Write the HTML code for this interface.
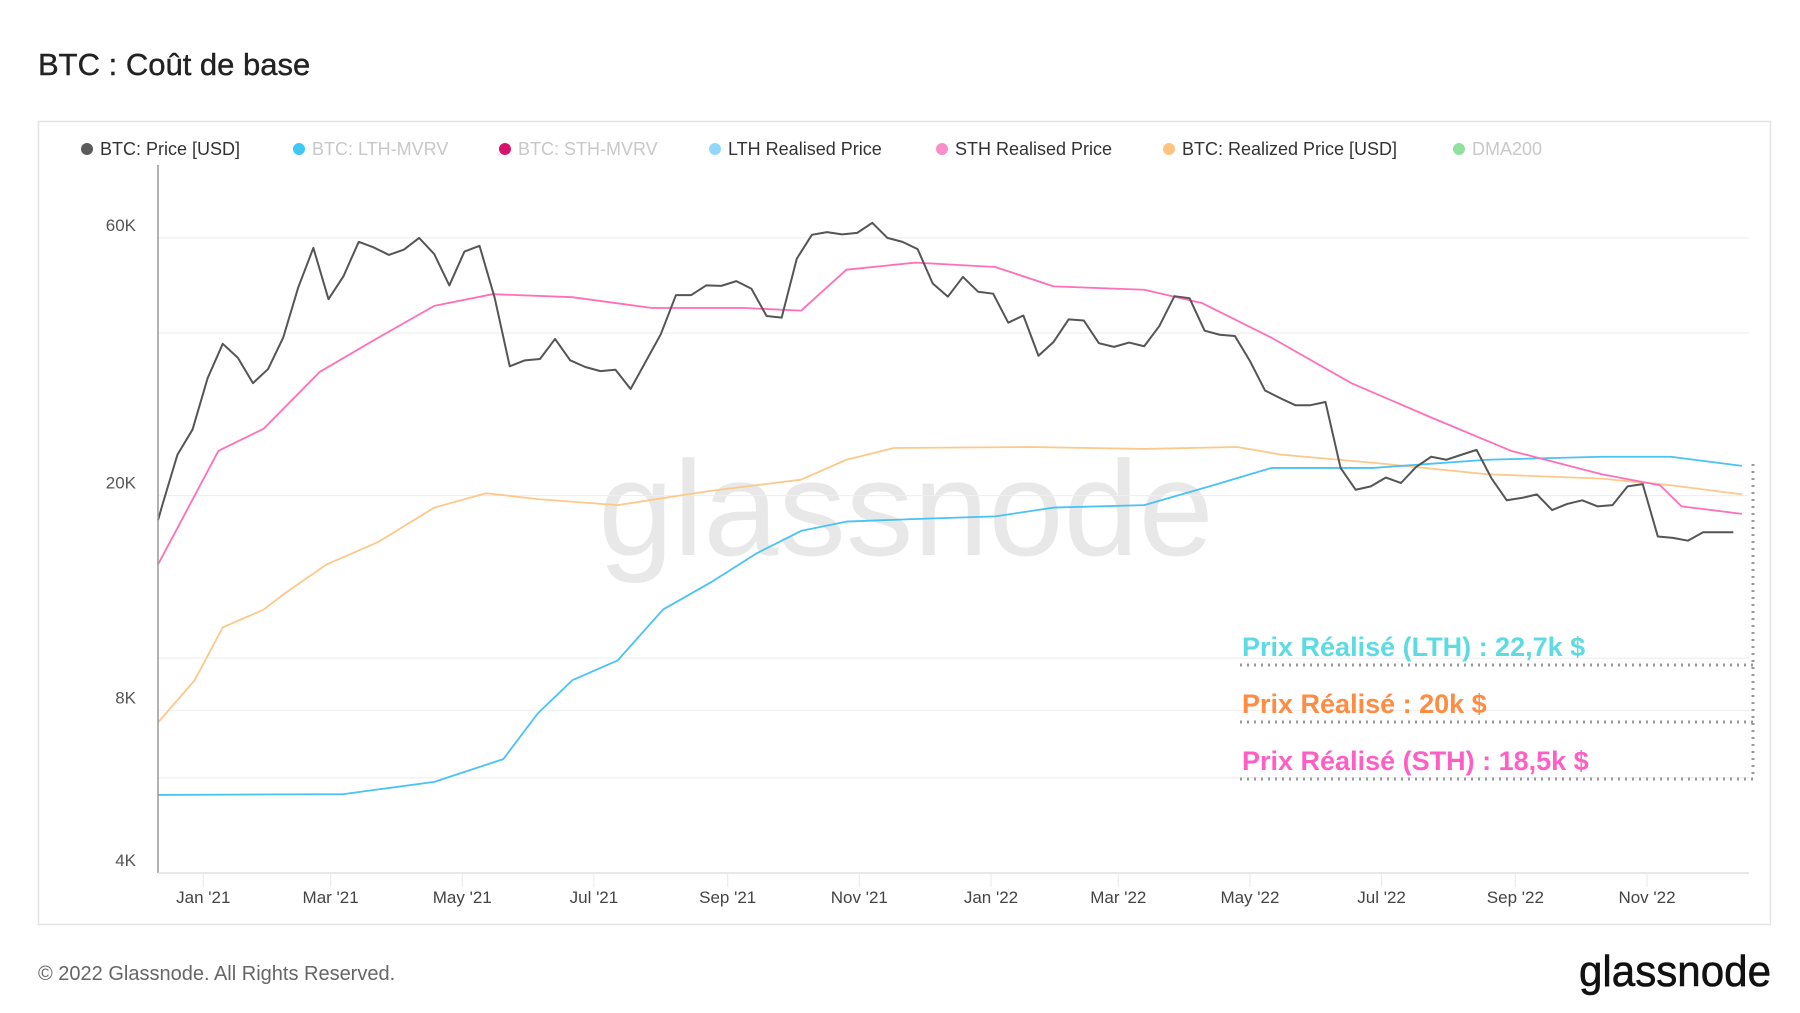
<!DOCTYPE html>
<html><head><meta charset="utf-8"><style>
html,body{margin:0;padding:0;background:#fff;width:1800px;height:1013px;overflow:hidden;font-family:"Liberation Sans",sans-serif}
</style></head><body>
<svg id="chart" width="1800" height="1013" xmlns="http://www.w3.org/2000/svg">
<text x="38" y="75" font-size="31" fill="#222" stroke="#222" stroke-width="0.4">BTC : Coût de base</text>
<rect x="38.5" y="121.5" width="1732" height="803" fill="none" stroke="#e3e3e3" stroke-width="1.5"/>
<g id="legend" font-size="18"></g>
<text x="906" y="555" font-size="135" fill="#e8e8e8" text-anchor="middle">glassnode</text>
<g id="grid"></g>
<g id="series"></g>
<g id="axes"></g>
<g id="annot">
<text x="1242" y="656" font-size="27" font-weight="bold" fill="#5ddbe3">Prix Réalisé (LTH) : 22,7k $</text>
<text x="1242" y="713" font-size="27" font-weight="bold" fill="#ff8c42">Prix Réalisé : 20k $</text>
<text x="1242" y="770" font-size="27" font-weight="bold" fill="#ff5fc4">Prix Réalisé (STH) : 18,5k $</text>
<g stroke="#999" stroke-width="3" stroke-dasharray="2,5" fill="none">
<line x1="1240" y1="665" x2="1753" y2="665"/>
<line x1="1240" y1="722" x2="1753" y2="722"/>
<line x1="1240" y1="779" x2="1753" y2="779"/>
<line x1="1753" y1="464" x2="1753" y2="779"/>
</g></g>
<text x="38" y="980" font-size="20" fill="#666">© 2022 Glassnode. All Rights Reserved.</text>
<text x="1771" y="986" font-size="44" fill="#111" stroke="#111" stroke-width="0.6" text-anchor="end" textLength="192" lengthAdjust="spacingAndGlyphs">glassnode</text>
</svg>
<script>
// day offsets from 2020-12-11
const priceValues=[18000,19200,23800,26500,33000,38200,36000,32300,34300,39200,48600,57500,46200,51000,59000,57600,55800,57100,60000,56000,49000,56600,58000,46500,34700,35600,35800,39000,35600,34600,34000,34200,31500,35400,39800,47000,47000,49000,48900,49900,48300,43000,42700,54900,60800,61500,60900,61300,64000,60000,59000,57200,49400,46700,50800,47700,47300,41800,43100,36300,38500,42400,42200,38300,37700,38400,37800,41200,46800,46400,40400,39700,39500,35500,31300,30300,29400,29400,29800,22500,20500,20800,21600,21100,22600,23600,23300,23800,24300,21500,19600,19800,20100,18800,19300,19600,19100,19200,20800,21000,16800,16700,16500,17100,17100,17100];
const sthDays=[0,28,49,75,102,128,155,192,229,272,298,319,351,388,415,457,484,516,553,590,627,669,696,706,734];
const sthValues=[14900,24200,26600,33900,39200,44900,47200,46600,44500,44500,44000,52400,54000,53000,48800,48100,45400,39200,32300,27900,24200,21900,20900,19100,18500];
const lthDays=[0,86,128,160,176,192,213,234,256,277,298,319,351,388,415,457,489,516,563,616,669,701,734];
const lthValues=[5580,5600,5900,6500,7900,9100,9900,12300,13800,15600,17200,17900,18100,18300,19000,19200,20900,22500,22500,23300,23600,23600,22700];
const rpDays=[0,17,30,49,59,78,102,128,152,176,213,256,298,319,341,404,457,500,521,563,616,669,701,734];
const rpValues=[7600,9100,11400,12300,13200,14900,16400,19000,20200,19700,19200,20400,21400,23300,24500,24600,24400,24600,23800,23000,21900,21500,20900,20100];
const yTickValues=[60000,20000,8000,4000];
const yTickLabels=["60K","20K","8K","4K"];
const gridValues=[60000,40000,20000,10000,8000,6000];
const xTickDays=[21,80,141,202,264,325,386,445,506,567,629,690];
const xTickLabels=["Jan '21","Mar '21","May '21","Jul '21","Sep '21","Nov '21","Jan '22","Mar '22","May '22","Jul '22","Sep '22","Nov '22"];
const legendLabels=["BTC: Price [USD]","BTC: LTH-MVRV","BTC: STH-MVRV","LTH Realised Price","STH Realised Price","BTC: Realized Price [USD]","DMA200"];
const legendColors=["#5b5b5b","#3ec8f5","#d6126b","#8fd8fb","#f790c8","#fcc47f","#90e0a0"];
const legendActive=[true,false,false,true,true,true,false];

const NS="http://www.w3.org/2000/svg";
const X0=158,X1=1749,YB=873;
function xs(d){return X0+d*2.158;}
function ys(v){return YB-(Math.log10(v)-Math.log10(4000))*540;}
function mk(tag,attrs,parent){const e=document.createElementNS(NS,tag);for(const k in attrs)e.setAttribute(k,attrs[k]);parent.appendChild(e);return e;}

const grid=document.getElementById('grid');
gridValues.forEach(v=>{const l=mk('line',{x1:X0,x2:X1,y1:ys(v),y2:ys(v),stroke:'#efefef','stroke-width':1.2},grid);

});

const axes=document.getElementById('axes');
const ya=mk('line',{x1:X0,x2:X0,y1:165,y2:YB,stroke:'#999','stroke-width':1.5},axes);


const xa=mk('line',{x1:X0,x2:X1,y1:YB,y2:YB,stroke:'#e0e0e0','stroke-width':1.5},axes);


yTickValues.forEach((v,i)=>{const t=mk('text',{x:136,y:ys(v)-7,'font-size':17,fill:'#555','text-anchor':'end'},axes);t.textContent=yTickLabels[i];

});
xTickDays.forEach((d,i)=>{mk('line',{x1:xs(d),x2:xs(d),y1:YB,y2:YB+14,stroke:'#e8e8e8'},axes);
const t=mk('text',{x:xs(d),y:903,'font-size':17,fill:'#444','text-anchor':'middle'},axes);t.textContent=xTickLabels[i];

});

const series=document.getElementById('series');
function line(days,vals,color,w,name){const p=mk('polyline',{points:days.map((d,i)=>xs(d)+','+ys(vals[i])).join(' '),fill:'none',stroke:color,'stroke-width':w,'stroke-linejoin':'round'},series);

}
line(rpDays,rpValues,'#fcc98a',1.8,'realized-price-line');
line(lthDays,lthValues,'#49c2f5',1.8,'lth-realised-price-line');
line(sthDays,sthValues,'#ff6fb8',1.8,'sth-realised-price-line');
const priceDays=priceValues.map((v,i)=>i===0?0:2+7*(i-1));
line(priceDays,priceValues,'#555',2,'btc-price-line');

const lg=document.getElementById('legend');
const lx=[87,299,505,715,942,1169,1459];
legendLabels.forEach((s,i)=>{const g=mk('g',{},lg);


mk('circle',{cx:lx[i],cy:149,r:6,fill:legendColors[i]},g);
const t=mk('text',{x:lx[i]+13,y:155,fill:legendActive[i]?'#333':'#c8c8c8'},g);t.textContent=s;});
</script>
</body></html>
